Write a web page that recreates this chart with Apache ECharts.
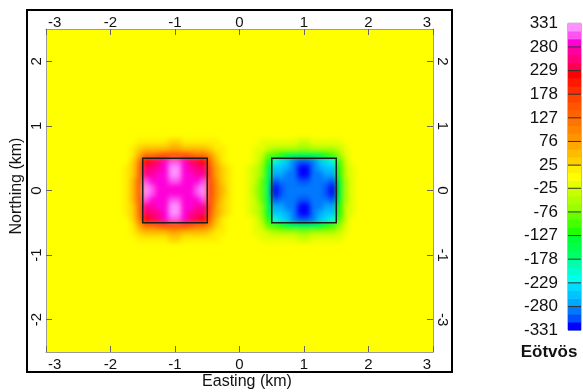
<!DOCTYPE html>
<html><head><meta charset="utf-8">
<script src="https://cdn.jsdelivr.net/npm/echarts@6/dist/echarts.min.js"></script>
<style>html,body{margin:0;padding:0;background:#fff}#c{width:583px;height:392px}</style>
</head><body><div id="c"></div>
<script>
// ---- data ----
const xTicks = [-3, -2, -1, 0, 1, 2, 3];
const yTicks = [-2, -1, 0, 1, 2];
const rightYTickLabels = ['-3', '-1', '0', '1', '2'];
const levels = [-331, -280, -229, -178, -127, -76, -25, 25, 76, 127, 178, 229, 280, 331];
const levelColors = [
  '#0000ff', '#0050ff', '#0078ff',
  '#00a8ff', '#00c4ff', '#00dcff',
  '#00ffee', '#00ffcc', '#00ffa8',
  '#00ff66', '#00ff4c', '#00ff33',
  '#22ff00', '#44ff00', '#66ff00',
  '#99ff00', '#b0ff00', '#c8ff00',
  '#e6ff00', '#ffff00', '#ffee00',
  '#ffd000', '#ffbb00', '#ffa800',
  '#ff9400', '#ff8400', '#ff7400',
  '#ff6200', '#ff5400', '#ff4400',
  '#ff2e00', '#ff1800', '#ff0000',
  '#ff0050', '#ff0078', '#ff00a0',
  '#ff00d8', '#ff55f0', '#ff90ff'
];
const cellSize = 0.1;
const rowY = [0.05, 0.15, 0.25, 0.35, 0.45, 0.55, 0.65, 0.75];
const posColX = [-1.95, -1.85, -1.75, -1.65, -1.55, -1.45, -1.35, -1.25, -1.15, -1.05, -0.95, -0.85, -0.75, -0.65, -0.55, -0.45, -0.35, -0.25, -0.15, -0.05];
const negColX = [0.05, 0.15, 0.25, 0.35, 0.45, 0.55, 0.65, 0.75, 0.85, 0.95, 1.05, 1.15, 1.25, 1.35, 1.45, 1.55, 1.65, 1.75, 1.85, 1.95];
// Eötvös values, upper half (mirrored below y=0 in the picture)
const posHalf = [
  [0, 5, 15, 45, 140, 320, 305, 292, 288, 290, 290, 288, 292, 305, 320, 165, 90, 45, 20, 5],
  [0, 5, 15, 45, 135, 300, 293, 286, 288, 312, 312, 288, 286, 293, 300, 160, 85, 40, 15, 3],
  [0, 5, 12, 40, 125, 270, 278, 284, 290, 322, 322, 290, 284, 278, 270, 150, 75, 35, 12, 2],
  [0, 4, 10, 35, 115, 250, 262, 276, 292, 326, 326, 292, 276, 262, 250, 135, 65, 28, 10, 2],
  [0, 3, 8, 30, 100, 215, 238, 262, 284, 300, 300, 284, 262, 238, 215, 115, 55, 22, 8, 0],
  [0, 2, 6, 22, 70, 110, 125, 135, 145, 150, 150, 145, 135, 125, 110, 80, 40, 18, 6, 0],
  [0, 0, 4, 12, 30, 45, 50, 55, 58, 60, 60, 58, 55, 50, 45, 35, 22, 10, 3, 0],
  [0, 0, 2, 6, 12, 18, 20, 22, 24, 26, 26, 24, 22, 20, 18, 14, 10, 5, 0, 0]
];
const negHalf = [
  [-5, -20, -45, -90, -165, -318, -305, -294, -290, -292, -292, -290, -294, -305, -318, -140, -45, -15, -5, 0],
  [-3, -15, -40, -85, -160, -302, -294, -288, -292, -305, -305, -292, -288, -294, -302, -135, -45, -15, -5, 0],
  [-2, -12, -35, -75, -150, -270, -278, -286, -294, -316, -316, -294, -286, -278, -270, -125, -40, -12, -5, 0],
  [-2, -10, -28, -65, -135, -250, -262, -278, -296, -322, -322, -296, -278, -262, -250, -115, -35, -10, -4, 0],
  [0, -8, -22, -55, -115, -215, -238, -262, -286, -300, -300, -286, -262, -238, -215, -100, -30, -8, -3, 0],
  [0, -6, -18, -40, -80, -110, -125, -135, -145, -150, -150, -145, -135, -125, -110, -70, -22, -6, -2, 0],
  [0, -3, -10, -22, -35, -45, -50, -55, -58, -60, -60, -58, -55, -50, -45, -30, -12, -4, 0, 0],
  [0, 0, -5, -10, -14, -18, -20, -22, -24, -26, -26, -24, -22, -20, -18, -12, -6, -2, 0, 0]
];
const prismBounds = [[-1.5, -0.5, -0.5, 0.5], [0.5, 1.5, -0.5, 0.5]];

// ---- build ----
const FONT = '"Liberation Sans", Arial, sans-serif';
const TICK_FS = 15;
const X_MIN = -3, X_MAX = 3, Y_MIN = -2.5, Y_MAX = 2.5;
const heatData = [];
function addHalf(cols, half) {
  half.forEach((row, r) => {
    row.forEach((v, c) => {
      heatData.push([cols[c], rowY[r], v]);
      heatData.push([cols[c], -rowY[r], v]);
    });
  });
}
addHalf(posColX, posHalf);
addHalf(negColX, negHalf);

const pieces = [];
const barData = [];
for (let i = 0; i < levels.length - 1; i++) {
  const a = levels[i], b = levels[i + 1];
  for (let j = 0; j < 3; j++) {
    const lo = a + (b - a) * j / 3, hi = a + (b - a) * (j + 1) / 3;
    const k = i * 3 + j;
    pieces.push({ gte: lo, lt: hi, color: levelColors[k] });
    barData.push([lo, hi, k]);
  }
}
pieces[pieces.length - 1].lte = levels[levels.length - 1];
delete pieces[pieces.length - 1].lt;

const GRID = { left: 46, top: 29, width: 387, height: 323 };
const chart = echarts.init(document.getElementById('c'), null, { renderer: 'canvas' });
const mainX = (pos) => ({
  type: 'value', gridIndex: 0, position: pos, min: X_MIN, max: X_MAX, interval: 1, zlevel: 1,
  axisLine: { show: true, onZero: false, lineStyle: { color: '#9a9a9a', width: 1 } },
  axisTick: { show: true, inside: true, length: 6, customValues: xTicks, lineStyle: { color: '#666' } },
  axisLabel: { show: false },
  splitLine: { show: false }
});
const mainY = (pos) => ({
  type: 'value', gridIndex: 0, position: pos, min: Y_MIN, max: Y_MAX, zlevel: 1,
  axisLine: { show: true, onZero: false, lineStyle: { color: '#9a9a9a', width: 1 } },
  axisTick: { show: true, inside: true, length: 6, customValues: yTicks, lineStyle: { color: '#666' } },
  axisLabel: { show: false },
  splitLine: { show: false }
});
const tickText = (text, x, y, align, vAlign, rotation) => ({
  type: 'text', x: x, y: y, rotation: rotation || 0,
  style: { text: text, fontSize: TICK_FS, fontFamily: FONT, fill: '#111', align: align, verticalAlign: vAlign }
});

chart.setOption({
  animation: false,
  textStyle: { fontFamily: FONT },
  grid: [
    Object.assign({ show: false, containLabel: false, outerBoundsMode: 'none', zlevel: 0 }, GRID),
    { left: 568, top: 23.3, width: 13, height: 306.8, show: true, borderColor: '#777', borderWidth: 1, containLabel: false, outerBoundsMode: 'none', zlevel: 1 }
  ],
  xAxis: [
    mainX('bottom'),
    mainX('top'),
    { type: 'value', gridIndex: 1, min: 0, max: 1, show: false }
  ],
  yAxis: [
    mainY('left'),
    mainY('right'),
    { type: 'value', gridIndex: 1, min: -331, max: 331, position: 'left', zlevel: 1,
      axisLine: { show: false }, axisTick: { show: false }, splitLine: { show: false },
      axisLabel: { show: true, customValues: levels, fontSize: 17, color: '#111', fontFamily: FONT, margin: 10 } }
  ],
  visualMap: {
    type: 'piecewise', show: false, seriesIndex: 0, dimension: 2, pieces: pieces
  },
  series: [
    {
      type: 'custom', xAxisIndex: 0, yAxisIndex: 0, data: heatData, zlevel: 0, z: 3,
      dimensions: ['x', 'y', 'v'], encode: { x: 0, y: 1 }, clip: false, silent: true,
      renderItem: (params, api) => {
        const x = api.value(0), y = api.value(1), h = cellSize / 2;
        const a = api.coord([x - h, y + h]), b = api.coord([x + h, y - h]);
        return { type: 'rect', shape: { x: a[0] - 0.3, y: a[1] - 0.3, width: b[0] - a[0] + 0.6, height: b[1] - a[1] + 0.6 },
          style: { fill: api.visual('color') } };
      }
    },
    {
      type: 'custom', xAxisIndex: 0, yAxisIndex: 0, data: prismBounds, zlevel: 1, z: 5, silent: true,
      encode: { x: [0, 1], y: [2, 3] },
      renderItem: (params, api) => {
        const a = api.coord([api.value(0), api.value(3)]), b = api.coord([api.value(1), api.value(2)]);
        return { type: 'rect', shape: { x: a[0], y: a[1], width: b[0] - a[0], height: b[1] - a[1] },
          style: { fill: 'none', stroke: '#1e1e1e', lineWidth: 1.5 } };
      }
    },
    {
      type: 'custom', xAxisIndex: 2, yAxisIndex: 2, data: barData, silent: true, zlevel: 1,
      encode: { y: [0, 1] },
      renderItem: (params, api) => {
        const a = api.coord([0, api.value(1)]), b = api.coord([1, api.value(0)]);
        return { type: 'rect', shape: { x: a[0], y: a[1] - 0.3, width: b[0] - a[0], height: b[1] - a[1] + 0.6 },
          style: { fill: levelColors[api.value(2)] } };
      }
    },
    {
      type: 'custom', xAxisIndex: 2, yAxisIndex: 2, data: levels.slice(1, -1).map(v => [v]), silent: true, zlevel: 1, z: 4,
      encode: { y: 0 },
      renderItem: (params, api) => {
        const a = api.coord([0, api.value(0)]), b = api.coord([1, api.value(0)]);
        return { type: 'line', shape: { x1: a[0], y1: a[1], x2: b[0], y2: b[1] },
          style: { stroke: '#333', lineWidth: 1 } };
      }
    },
    // x tick labels (top and bottom) placed through the axis scale
    {
      type: 'custom', xAxisIndex: 0, yAxisIndex: 0, data: xTicks.map(v => [v]), silent: true, zlevel: 1, z: 6, clip: false,
      encode: { x: 0 },
      renderItem: (params, api) => {
        const v = api.value(0);
        const bot = api.coord([v, Y_MIN]), top = api.coord([v, Y_MAX]);
        const align = v === X_MIN ? 'left' : (v === X_MAX ? 'right' : 'center');
        const dx = v === X_MIN ? 2 : (v === X_MAX ? -2 : 0);
        return { type: 'group', children: [
          tickText(String(v), bot[0] + dx, bot[1] + 5, align, 'top'),
          tickText(String(v), top[0] + dx, top[1] + 1, align, 'bottom')
        ] };
      }
    },
    // y tick labels (left and right), rotated as in the original
    {
      type: 'custom', xAxisIndex: 0, yAxisIndex: 0, data: yTicks.map(v => [v]), silent: true, zlevel: 1, z: 6, clip: false,
      encode: { y: 0 },
      renderItem: (params, api) => {
        const v = api.value(0);
        const l = api.coord([X_MIN, v]), r = api.coord([X_MAX, v]);
        return { type: 'group', children: [
          tickText(String(v), l[0] - 2, l[1], 'center', 'bottom', Math.PI / 2),
          tickText(rightYTickLabels[yTicks.indexOf(v)], r[0] + 2, r[1], 'center', 'bottom', -Math.PI / 2)
        ] };
      }
    }
  ],
  graphic: [
    // background field (value 0 colour) under the gridded values, extended past the plot edge
    { type: 'rect', zlevel: 0, z: 0, silent: true, shape: { x: GRID.left - 10, y: GRID.top - 10, width: GRID.width + 20, height: GRID.height + 20 }, style: { fill: levelColors[19] } },
    { type: 'rect', zlevel: 1, z: 100, shape: { x: 27, y: 10, width: 425, height: 362 }, style: { fill: null, stroke: '#000', lineWidth: 2 } },
    { type: 'text', zlevel: 1, x: 247, y: 382, style: { text: 'Easting (km)', fontSize: 16, fontFamily: FONT, fill: '#111', align: 'center', verticalAlign: 'middle' } },
    { type: 'text', zlevel: 1, x: 17, y: 186, rotation: Math.PI / 2, style: { text: 'Northing (km)', fontSize: 16, fontFamily: FONT, fill: '#111', align: 'center', verticalAlign: 'middle' } },
    { type: 'text', zlevel: 1, x: 549, y: 352, style: { text: 'Eötvös', fontSize: 17, fontWeight: 'bold', fontFamily: FONT, fill: '#111', align: 'center', verticalAlign: 'middle' } }
  ]
});

// soften the gridded field like the contour fill of the original, clipped to the plot area
const base = chart.getDom().querySelector('canvas[data-zr-dom-id="zr_0"]');
if (base) {
  base.style.filter = 'blur(2.5px)';
  base.style.clipPath = 'inset(' + GRID.top + 'px ' + (583 - GRID.left - GRID.width) + 'px ' + (392 - GRID.top - GRID.height) + 'px ' + GRID.left + 'px)';
}
</script>
</body></html>
